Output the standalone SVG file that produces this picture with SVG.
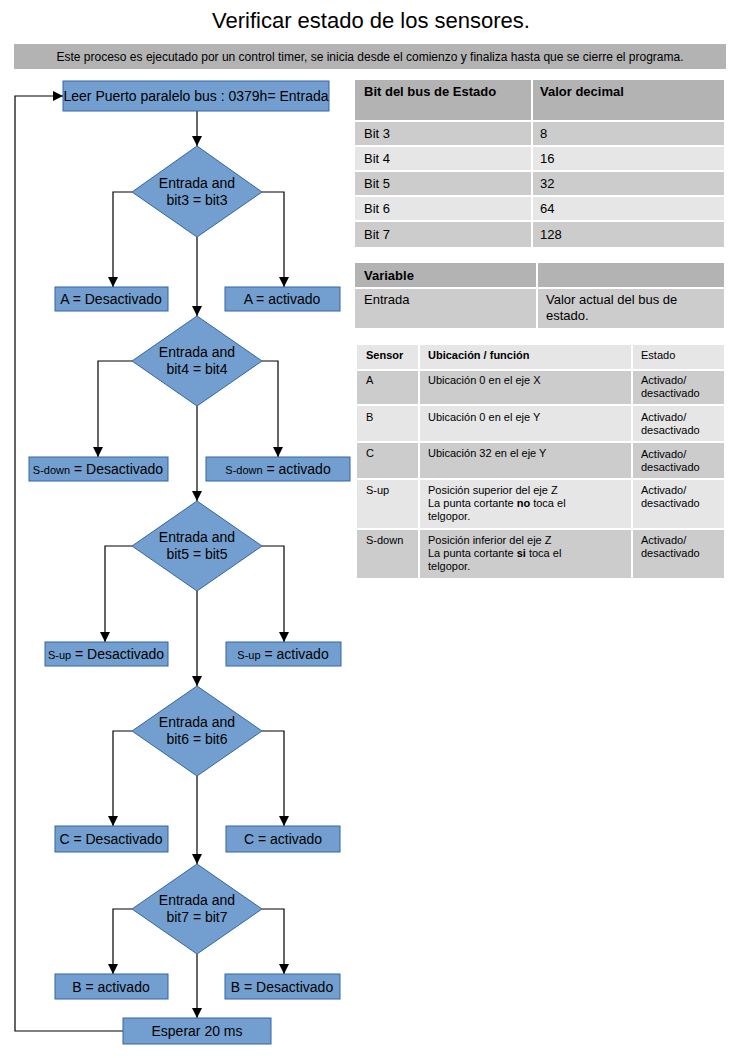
<svg xmlns="http://www.w3.org/2000/svg" width="742" height="1058" viewBox="0 0 742 1058">
<defs>
<marker id="ah" viewBox="0 0 10 10" refX="10" refY="5" markerWidth="10" markerHeight="10" markerUnits="userSpaceOnUse" orient="auto"><path d="M0,0 L10,5 L0,10 z" fill="#000"/></marker>
<style>
text{font-family:"Liberation Sans",Arial,sans-serif;fill:#000}
.n{fill:#729fcf;stroke:#3465a4;stroke-width:1}
.t{font-size:14px;text-anchor:middle}
.s{font-size:11px}
.c{fill:none;stroke:#000;stroke-width:1.2;marker-end:url(#ah)}
.h{fill:#b3b3b3}.d{fill:#cccccc}.l{fill:#e6e6e6}
.tb{font-size:13px}.tb3{font-size:11px}
</style>
</defs>
<rect width="742" height="1058" fill="#fff"/>
<text x="371" y="28" font-size="22" text-anchor="middle">Verificar estado de los sensores.</text>
<rect x="14" y="44" width="712" height="25" fill="#b3b3b3"/>
<text x="370" y="61" font-size="12" text-anchor="middle">Este proceso es ejecutado por un control timer, se inicia desde el comienzo y finaliza hasta que se cierre el programa.</text>

<g id="connectors">
<path class="c" d="M197,111 V146"/>
<path class="c" d="M132,192 H113 V287"/><path class="c" d="M262,192 H284 V287"/>
<path class="c" d="M197,237 V316"/>
<path class="c" d="M132,361 H98 V457"/><path class="c" d="M262,361 H278 V457"/>
<path class="c" d="M197,406 V501"/>
<path class="c" d="M132,546 H105 V642"/><path class="c" d="M262,546 H284 V642"/>
<path class="c" d="M197,591 V686"/>
<path class="c" d="M132,731 H113 V826"/><path class="c" d="M262,731 H284 V826"/>
<path class="c" d="M197,776 V864"/>
<path class="c" d="M132,909 H113 V974"/><path class="c" d="M262,909 H284 V974"/>
<path class="c" d="M197,954 V1018"/>
<path class="c" d="M123,1031 H15 V96 H63"/>
</g>

<g id="n-leer"><rect class="n" x="63" y="81" width="266" height="30"/><text class="t" x="196" y="101">Leer Puerto paralelo bus : 0379h= Entrada</text></g>
<g id="d1"><path class="n" d="M197,146 L262,192 L197,237 L132,192 z"/><text class="t" x="197" y="188">Entrada and</text><text class="t" x="197" y="205">bit3 = bit3</text></g>
<g id="a-des"><rect class="n" x="55" y="287" width="113" height="24"/><text class="t" x="111" y="304">A = Desactivado</text></g>
<g id="a-act"><rect class="n" x="225" y="287" width="115" height="24"/><text class="t" x="282" y="304">A = activado</text></g>
<g id="d2"><path class="n" d="M197,316 L262,361 L197,406 L132,361 z"/><text class="t" x="197" y="357">Entrada and</text><text class="t" x="197" y="374">bit4 = bit4</text></g>
<g id="sd-des"><rect class="n" x="29" y="457" width="139" height="24"/><text class="t" x="98" y="474"><tspan class="s">S-down</tspan> = Desactivado</text></g>
<g id="sd-act"><rect class="n" x="206" y="457" width="144" height="24"/><text class="t" x="278" y="474"><tspan class="s">S-down</tspan> = activado</text></g>
<g id="d3"><path class="n" d="M197,501 L262,546 L197,591 L132,546 z"/><text class="t" x="197" y="542">Entrada and</text><text class="t" x="197" y="559">bit5 = bit5</text></g>
<g id="su-des"><rect class="n" x="45" y="642" width="123" height="24"/><text class="t" x="106" y="659"><tspan class="s">S-up</tspan> = Desactivado</text></g>
<g id="su-act"><rect class="n" x="226" y="642" width="115" height="24"/><text class="t" x="283" y="659"><tspan class="s">S-up</tspan> = activado</text></g>
<g id="d4"><path class="n" d="M197,686 L262,731 L197,776 L132,731 z"/><text class="t" x="197" y="727">Entrada and</text><text class="t" x="197" y="744">bit6 = bit6</text></g>
<g id="c-des"><rect class="n" x="55" y="826" width="113" height="26"/><text class="t" x="111" y="844">C = Desactivado</text></g>
<g id="c-act"><rect class="n" x="226" y="826" width="114" height="26"/><text class="t" x="283" y="844">C = activado</text></g>
<g id="d5"><path class="n" d="M197,864 L262,909 L197,954 L132,909 z"/><text class="t" x="197" y="905">Entrada and</text><text class="t" x="197" y="922">bit7 = bit7</text></g>
<g id="b-act"><rect class="n" x="55" y="974" width="113" height="25"/><text class="t" x="111" y="992">B = activado</text></g>
<g id="b-des"><rect class="n" x="225" y="974" width="115" height="25"/><text class="t" x="282" y="992">B = Desactivado</text></g>
<g id="esperar"><rect class="n" x="123" y="1018" width="148" height="26"/><text class="t" x="197" y="1036">Esperar 20 ms</text></g>

<g id="tabla1" class="tb">
<rect class="h" x="355" y="80" width="176" height="40"/><rect class="h" x="533" y="80" width="191" height="40"/>
<rect class="d" x="355" y="122" width="176" height="23"/><rect class="d" x="533" y="122" width="191" height="23"/>
<rect class="l" x="355" y="147" width="176" height="23"/><rect class="l" x="533" y="147" width="191" height="23"/>
<rect class="d" x="355" y="172" width="176" height="23"/><rect class="d" x="533" y="172" width="191" height="23"/>
<rect class="l" x="355" y="197" width="176" height="23"/><rect class="l" x="533" y="197" width="191" height="23"/>
<rect class="d" x="355" y="222" width="176" height="25"/><rect class="d" x="533" y="222" width="191" height="25"/>
<text x="364" y="96" font-weight="bold">Bit del bus de Estado</text><text x="540" y="96" font-weight="bold">Valor decimal</text>
<text x="364" y="138">Bit 3</text><text x="540" y="138">8</text>
<text x="364" y="163">Bit 4</text><text x="540" y="163">16</text>
<text x="364" y="188">Bit 5</text><text x="540" y="188">32</text>
<text x="364" y="213">Bit 6</text><text x="540" y="213">64</text>
<text x="364" y="239">Bit 7</text><text x="540" y="239">128</text>
</g>
<g id="tabla2" class="tb">
<rect class="h" x="355" y="263" width="181" height="24"/><rect class="h" x="538" y="263" width="186" height="24"/>
<rect class="d" x="355" y="289" width="181" height="39"/><rect class="d" x="538" y="289" width="186" height="39"/>
<text x="364" y="280" font-weight="bold">Variable</text>
<text x="364" y="304">Entrada</text>
<text x="546" y="304">Valor actual del bus de</text><text x="546" y="320">estado.</text>
</g>
<g id="tabla3" class="tb3">
<rect class="l" x="357" y="345" width="61" height="24"/><rect class="l" x="420" y="345" width="211" height="24"/><rect class="l" x="633" y="345" width="91" height="24"/>
<rect class="d" x="357" y="371" width="61" height="33"/><rect class="d" x="420" y="371" width="211" height="33"/><rect class="d" x="633" y="371" width="91" height="33"/>
<rect class="l" x="357" y="406" width="61" height="35"/><rect class="l" x="420" y="406" width="211" height="35"/><rect class="l" x="633" y="406" width="91" height="35"/>
<rect class="d" x="357" y="443" width="61" height="35"/><rect class="d" x="420" y="443" width="211" height="35"/><rect class="d" x="633" y="443" width="91" height="35"/>
<rect class="l" x="357" y="480" width="61" height="48"/><rect class="l" x="420" y="480" width="211" height="48"/><rect class="l" x="633" y="480" width="91" height="48"/>
<rect class="d" x="357" y="530" width="61" height="48"/><rect class="d" x="420" y="530" width="211" height="48"/><rect class="d" x="633" y="530" width="91" height="48"/>
<text x="366" y="359" font-weight="bold">Sensor</text><text x="428" y="359" font-weight="bold">Ubicación / función</text><text x="641" y="359">Estado</text>
<text x="366" y="384">A</text><text x="428" y="384">Ubicación 0 en el eje X</text><text x="641" y="384">Activado/</text><text x="641" y="397">desactivado</text>
<text x="366" y="421">B</text><text x="428" y="421">Ubicación 0 en el eje Y</text><text x="641" y="421">Activado/</text><text x="641" y="434">desactivado</text>
<text x="366" y="457">C</text><text x="428" y="457">Ubicación 32  en el eje Y</text><text x="641" y="458">Activado/</text><text x="641" y="471">desactivado</text>
<text x="366" y="494">S-up</text><text x="428" y="494">Posición superior del eje Z</text><text x="428" y="507">La punta cortante <tspan font-weight="bold">no</tspan> toca el</text><text x="428" y="520">telgopor.</text><text x="641" y="494">Activado/</text><text x="641" y="507">desactivado</text>
<text x="366" y="544">S-down</text><text x="428" y="544">Posición inferior del eje Z</text><text x="428" y="557">La punta cortante <tspan font-weight="bold">si</tspan> toca el</text><text x="428" y="570">telgopor.</text><text x="641" y="544">Activado/</text><text x="641" y="557">desactivado</text>
</g>
</svg>
